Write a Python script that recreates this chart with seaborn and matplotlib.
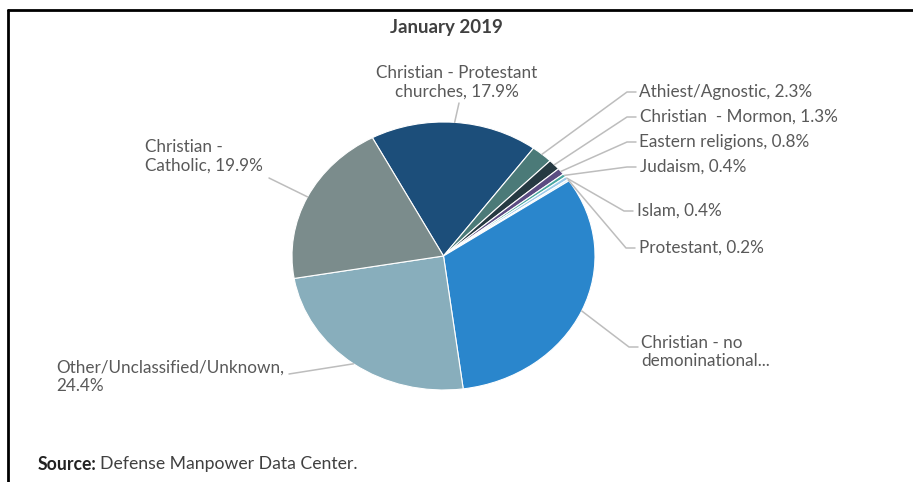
import numpy as np
import matplotlib
matplotlib.use("Agg")
import matplotlib.pyplot as plt
import seaborn as sns
from matplotlib.lines import Line2D

# ---- data ----
categories = [
    "Christian - Protestant churches",
    "Athiest/Agnostic",
    "Christian  - Mormon",
    "Eastern religions",
    "Judaism",
    "Islam",
    "Protestant",
    "Christian - no demoninational",
    "Other/Unclassified/Unknown",
    "Christian - Catholic",
]
values = [17.9, 2.3, 1.3, 0.8, 0.4, 0.4, 0.2, 32.4, 24.4, 19.9]
label_texts = [
    "Christian - Protestant\nchurches, 17.9%",
    "Athiest/Agnostic, 2.3%",
    "Christian  - Mormon, 1.3%",
    "Eastern religions, 0.8%",
    "Judaism, 0.4%",
    "Islam, 0.4%",
    "Protestant, 0.2%",
    "Christian - no\ndemoninational...",
    "Other/Unclassified/Unknown,\n24.4%",
    "Christian -\nCatholic, 19.9%",
]
colors = ["#1c4e7a", "#4b7a78", "#263a42", "#5b4c82", "#4aa8a0",
          "#9ccae9", "#d2e7f4", "#2a86cc", "#88aebc", "#7b8c8c"]
title = "January 2019"

sns.set_theme(style="white")
plt.rcParams["font.family"] = ["Lato", "DejaVu Sans"]

W, H = 913, 482
fig = plt.figure(figsize=(W / 100, H / 100), dpi=100)
ax = fig.add_axes([0, 0, 1, 1])

# pie geometry (pixels)
cx, cy, rx, ry = 443.5, 256.0, 151.5, 134.0

def px(x, y):
    return ((x - cx) / rx, (cy - y) / ry)

wedges, _ = ax.pie(values, colors=sns.color_palette(colors), startangle=118,
                   counterclock=False, radius=1.0,
                   wedgeprops=dict(edgecolor="white", linewidth=0.8))
ax.set_aspect("auto")
ax.set_xlim(-cx / rx, (W - cx) / rx)
ax.set_ylim(-(H - cy) / ry, cy / ry)
ax.axis("off")

txtc = "#595959"
fs = 12.3

# label placements (pixel): (x, y, ha, anchor_x, anchor_y, elbow)
place = [
    (457, 82, "center", 459, 103, False),
    (639, 92, "left", 636, 92, True),
    (640, 117, "left", 636, 117, True),
    (639, 142, "left", 636, 142, True),
    (640, 167, "left", 636, 167, True),
    (637, 211, "left", 633, 211, True),
    (639, 248, "left", 635, 248, True),
    (641, 352, "left", 638, 347, True),
    (56, 377, "left", 289, 374, False),
    (145, 156, "left", 269, 178, False),
]

for w, lab, (x, y, ha, axp, ayp, elbow) in zip(wedges, label_texts, place):
    ang = np.deg2rad((w.theta1 + w.theta2) / 2)
    p0 = (np.cos(ang), np.sin(ang))
    tx, ty = px(x, y)
    ax.text(tx, ty, lab, ha=ha, va="center", fontsize=fs, color=txtc,
            linespacing=1.2)
    ax_, ay_ = px(axp, ayp)
    if elbow:
        ex, ey = px(axp - 9, ayp)
        xs, ys = [p0[0], ex, ax_], [p0[1], ey, ay_]
    else:
        xs, ys = [p0[0], ax_], [p0[1], ay_]
    ax.plot(xs, ys, color="#bdbdbd", lw=1.1, solid_capstyle="round")

# title
ax.text(*px(446, 28), title, ha="center", va="center", fontsize=13.5,
        fontweight="bold", color="#404040")

# source
s1 = fig.text(38 / W, 1 - 464 / H, "Source:", fontsize=12.7, fontweight="bold",
              color="#222222", va="center", ha="left")
fig.canvas.draw()
bb = s1.get_window_extent(renderer=fig.canvas.get_renderer())
fig.text((bb.x1 + 3) / W, 1 - 464 / H, "Defense Manpower Data Center.",
         fontsize=12.7, color="#404040", va="center", ha="left")

# border lines
fig.add_artist(Line2D([8 / W, 1], [1 - 10 / H, 1 - 10 / H], color="black",
                      lw=2.0, transform=fig.transFigure))
fig.add_artist(Line2D([8 / W, 8 / W], [0, 1 - 10 / H], color="black",
                      lw=2.0, transform=fig.transFigure))

fig.savefig("out.png", dpi=100, facecolor="white")
